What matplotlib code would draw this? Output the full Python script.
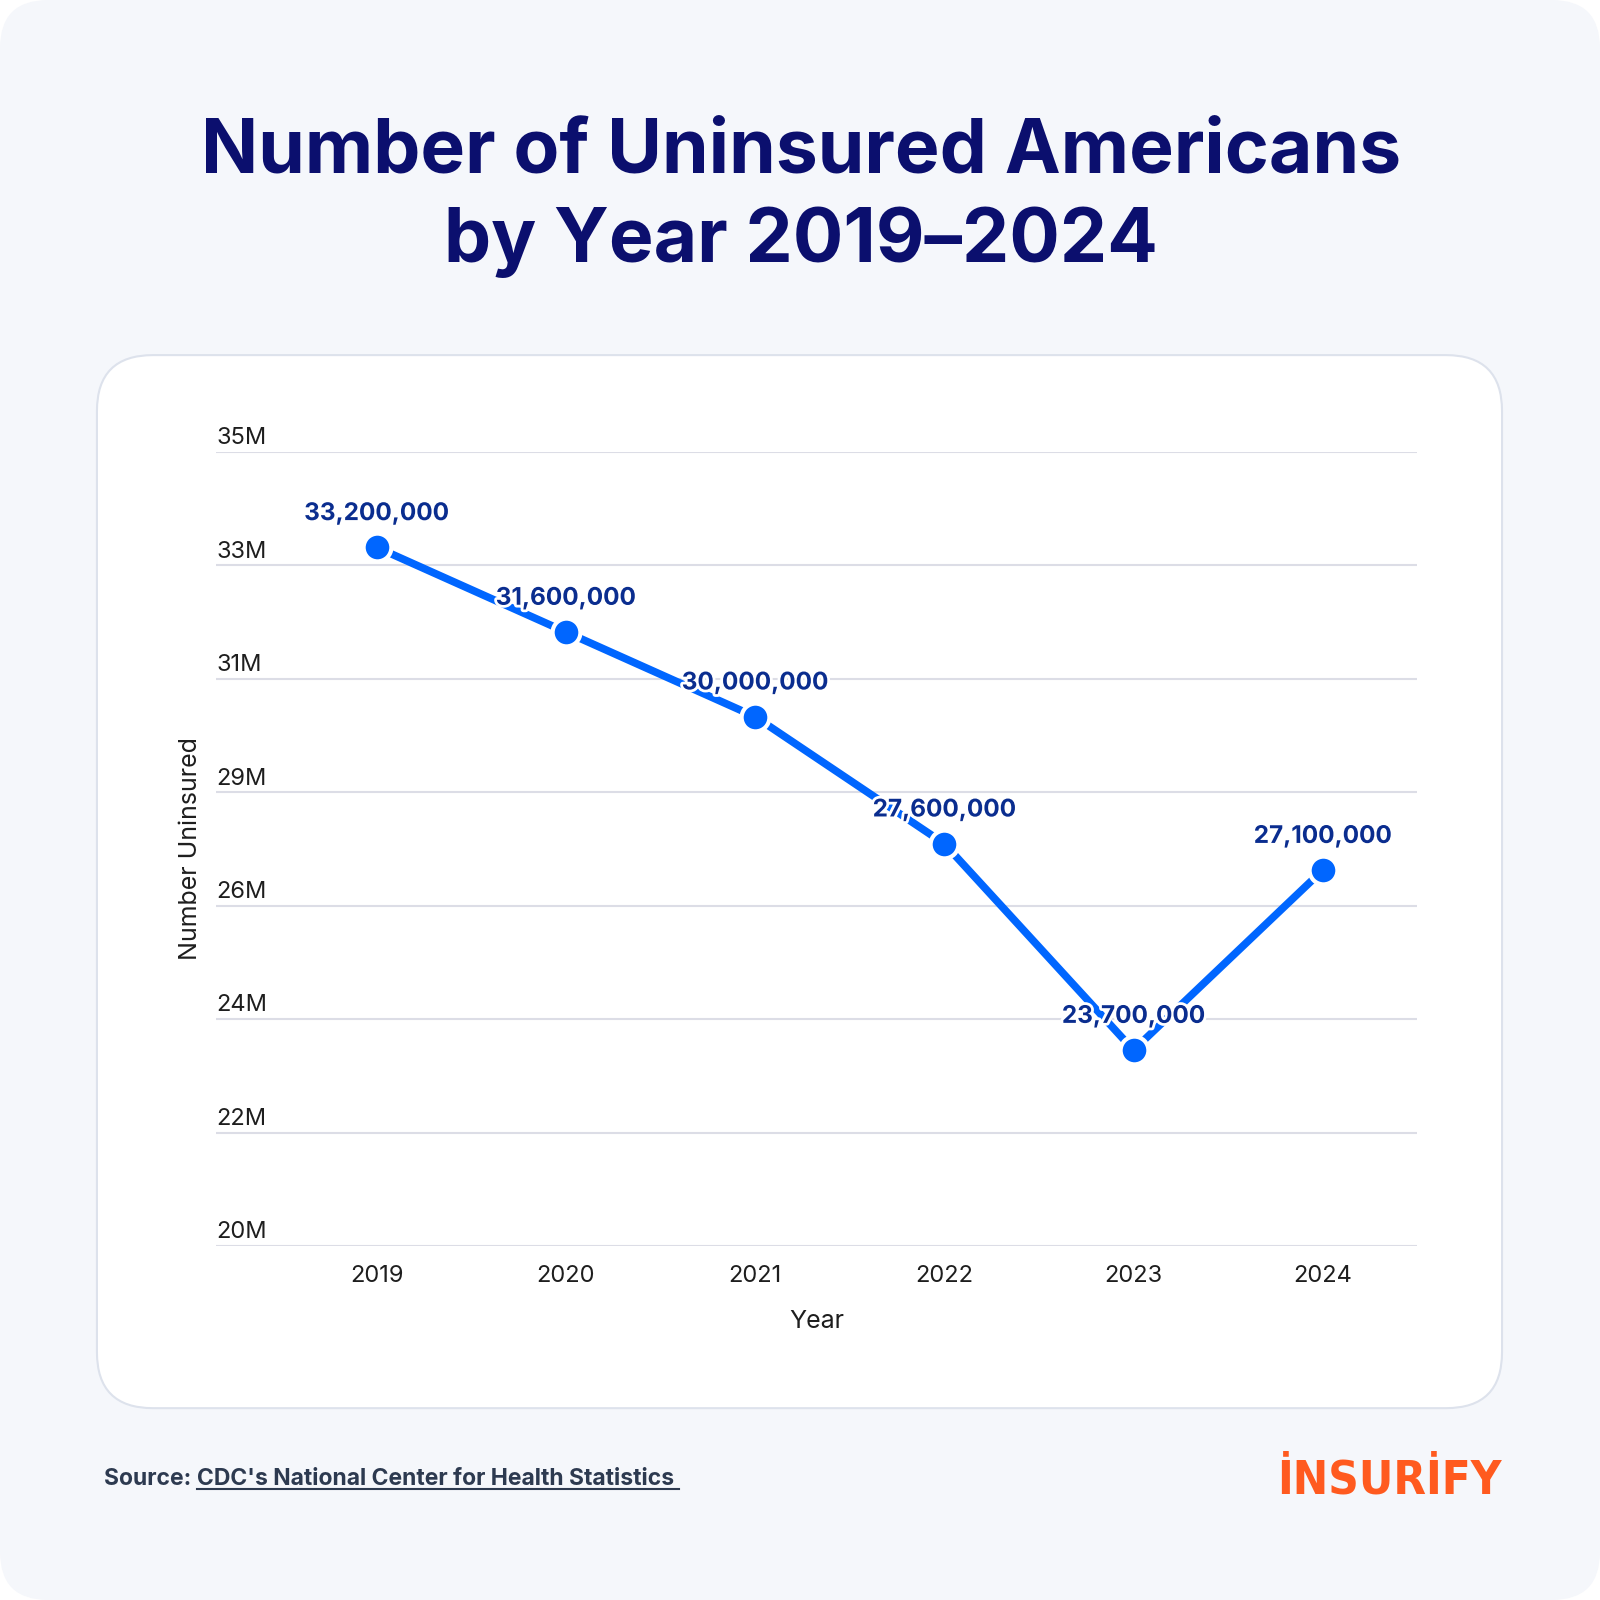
import numpy as np
import matplotlib.pyplot as plt
import matplotlib.transforms as mtransforms
import matplotlib.patheffects as pe
from matplotlib.patches import FancyBboxPatch

plt.rcParams['font.family'] = ['Inter', 'DejaVu Sans']

years = [2019, 2020, 2021, 2022, 2023, 2024]
uninsured = [33200000, 31600000, 30000000, 27600000, 23700000, 27100000]

title = 'Number of Uninsured Americans\nby Year 2019–2024'
source_bold = 'Source: '
source_link = "CDC's National Center for Health Statistics "

navy = '#0b0f6e'
blue = '#0066ff'
label_col = '#0a2d8f'
S = 1568  # layout measured on a 1568 px grid

fig = plt.figure(figsize=(16, 16), dpi=100)
fig.patch.set_facecolor('white')

# outer background with rounded corners
bg = FancyBboxPatch((0.0, 0.0), 1.0, 1.0, boxstyle='round,pad=0,rounding_size=0.03',
                    transform=fig.transFigure, facecolor='#f5f7fb', edgecolor='none', zorder=-3)
fig.patches.append(bg)

# white card
card = FancyBboxPatch((95 / S, 1 - 1380 / S), (1472 - 95) / S, (1380 - 348) / S,
                      boxstyle='round,pad=0,rounding_size=0.035',
                      transform=fig.transFigure, facecolor='white', edgecolor='#dde2ec',
                      linewidth=1.5, zorder=-2)
fig.patches.append(card)

fig.text(785 / S, 1 - 194 / S, title, ha='center', va='center', fontsize=54,
         fontweight='bold', color=navy, linespacing=1.32)

ax = fig.add_axes([212 / S, 1 - 1221 / S, (1389 - 212) / S, (1221 - 443) / S])
ax.set_facecolor('none')

y = np.array(uninsured) / 1e6
ax.plot(years, y, color=blue, linewidth=5.5, marker='o', markersize=20,
        markerfacecolor=blue, markeredgecolor='white', markeredgewidth=3, zorder=3)

for xv, yv, v in zip(years, y, uninsured):
    ax.annotate(f'{v:,}', (xv, yv), xytext=(0, 16), textcoords='offset points',
                ha='center', va='bottom', fontsize=17.5, fontweight='bold', color=label_col,
                zorder=4, path_effects=[pe.withStroke(linewidth=4, foreground='white')])

ax.set_xlim(2018.153, 2024.5)
ax.set_ylim(20, 35)
yticks = np.linspace(20, 35, 8)
ax.set_yticks(yticks)
ax.set_yticklabels([])
ax.yaxis.grid(True, color='#dcdde6', linewidth=1.5)
ax.tick_params(axis='y', length=0)
trans = mtransforms.blended_transform_factory(ax.transAxes, ax.transData)
for v in yticks:
    ax.text(0.0, v + 0.05, f'{round(v)}M', transform=trans, ha='left', va='bottom',
            fontsize=17, color='#1e1e1e')
ax.set_xticks(years)
ax.set_xticklabels([str(yr) for yr in years], fontsize=17, color='#1e1e1e')
ax.tick_params(axis='x', length=0, pad=14)
for s in ax.spines.values():
    s.set_visible(False)
ax.set_xlabel('Year', fontsize=18, color='#1e1e1e', labelpad=16)
ax.set_ylabel('Number Uninsured', fontsize=18, color='#1e1e1e')
ax.yaxis.set_label_coords(-0.012, 0.5)

# source line
t1 = fig.text(102 / S, 1 - 1449 / S, source_bold, ha='left', va='center',
              fontsize=16.5, fontweight='bold', color='#2d3a50')
fig.canvas.draw()
r = fig.canvas.get_renderer()
bb = t1.get_window_extent(r)
t2 = fig.text(bb.x1 / 1600, 1 - 1449 / S, source_link, ha='left', va='center',
              fontsize=16.5, fontweight='bold', color='#2d3a50')
fig.canvas.draw()
bb2 = t2.get_window_extent(r)
fig.add_artist(plt.Line2D([bb2.x0 / 1600, bb2.x1 / 1600], [(bb2.y0 + 1) / 1600] * 2,
                          transform=fig.transFigure, color='#2d3a50', linewidth=1.5))

# logo text
fig.text(1472 / S, 1 - 1451 / S, 'İNSURİFY', ha='right', va='center',
         fontsize=34, fontweight='bold', color='#ff5a1f', fontstretch='condensed',
         family=['Liberation Sans Narrow', 'DejaVu Sans'])

fig.savefig('out.png', dpi=100)
